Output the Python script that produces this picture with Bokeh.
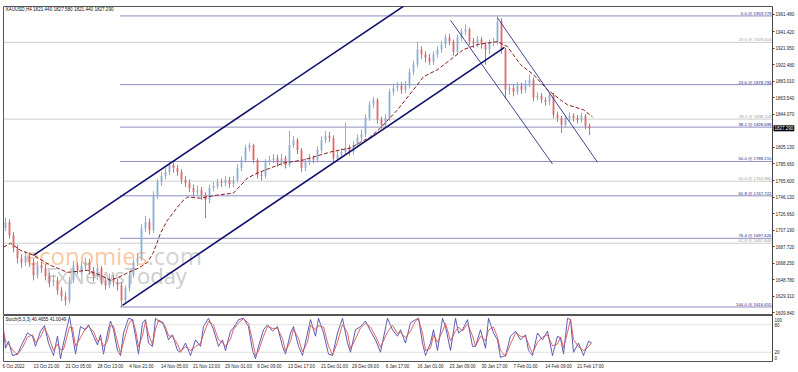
from bokeh.plotting import figure
from bokeh.models import Range1d, FixedTicker, Label, ColumnDataSource, Span, PrintfTickFormatter
from bokeh.layouts import column
from bokeh.embed import file_html
from bokeh.resources import INLINE
from bokeh.core.properties import value

# ---------------- data ----------------
first_open = 1710.0
closes = [1716.6, 1701.3, 1685.9, 1674.1, 1669.3, 1676.4, 1669.3, 1654.0, 1665.8, 1662.3,
          1652.8, 1645.7, 1648.1, 1636.2, 1629.1, 1624.4, 1648.1, 1665.8, 1659.9, 1664.6,
          1669.3, 1659.9, 1652.8, 1662.3, 1648.1, 1642.2, 1650.4, 1645.7, 1642.2, 1624.4,
          1638.6, 1654.0, 1669.3, 1674.1, 1709.6, 1716.6, 1707.2, 1748.6, 1763.9, 1771.1,
          1775.8, 1784.1, 1780.5, 1775.8, 1766.3, 1762.8, 1756.9, 1752.1, 1754.5, 1748.6,
          1742.7, 1756.9, 1759.2, 1763.9, 1762.8, 1766.3, 1761.6, 1766.3, 1780.5, 1790.0,
          1804.2, 1807.7, 1790.0, 1772.2, 1771.1, 1787.6, 1790.0, 1792.1, 1786.4, 1792.1,
          1784.1, 1807.7, 1813.6, 1801.8, 1780.5, 1787.6, 1792.1, 1790.0, 1801.8, 1813.6,
          1818.4, 1816.0, 1792.1, 1795.9, 1799.4, 1804.2, 1799.4, 1807.7, 1816.0, 1820.7,
          1839.6, 1855.0, 1860.9, 1837.3, 1831.4, 1839.6, 1870.4, 1875.1, 1877.5, 1872.8,
          1877.5, 1894.1, 1902.4, 1920.1, 1914.2, 1910.6, 1905.9, 1914.2, 1920.1, 1926.0,
          1934.3, 1929.5, 1917.7, 1934.3, 1941.4, 1943.7, 1929.5, 1927.2, 1931.9, 1926.0,
          1920.1, 1928.4, 1929.5, 1953.2, 1920.1, 1872.8, 1875.1, 1870.4, 1877.5, 1872.8,
          1879.9, 1884.6, 1863.3, 1865.7, 1860.9, 1858.6, 1866.9, 1843.2, 1839.6, 1831.4,
          1839.6, 1842.0, 1839.6, 1837.3, 1842.0, 1830.2, 1827.3]
highs = [1722, 1720, 1705, 1690, 1679, 1682, 1681, 1674, 1671, 1670,
         1667, 1657, 1655, 1652, 1640, 1634, 1652, 1671, 1669, 1670,
         1675, 1673, 1664, 1667, 1665, 1652, 1656, 1655, 1650, 1646,
         1642, 1658, 1673, 1680, 1714, 1724, 1721, 1753, 1768, 1776,
         1781, 1788.8, 1787, 1784, 1779, 1771, 1767, 1761, 1760, 1758,
         1752, 1761, 1764, 1768, 1768, 1771, 1770, 1771, 1785, 1794,
         1808, 1810.1, 1809, 1792, 1777, 1791, 1795, 1797, 1796, 1797,
         1795, 1824.3, 1818, 1816, 1804, 1792, 1797, 1795, 1806, 1818,
         1824, 1823, 1819, 1801, 1804, 1833.7, 1808, 1812, 1820, 1826,
         1844, 1859, 1864.5, 1863, 1841, 1844, 1874, 1880, 1882, 1882,
         1883, 1898, 1907, 1929.5, 1924, 1918, 1915, 1918, 1924, 1930,
         1938, 1939, 1932, 1938, 1945, 1949.7, 1946, 1934, 1936, 1935,
         1929, 1932, 1934, 1959.8, 1957, 1922, 1880, 1879, 1882, 1881,
         1884, 1890.5, 1887, 1870, 1869, 1864, 1870.4, 1869, 1847, 1842,
         1843, 1846, 1845, 1843, 1845.6, 1844, 1833]
lows = [1706, 1697, 1681, 1668, 1663, 1665, 1664, 1648, 1650, 1657,
        1648, 1640, 1641, 1631, 1624, 1618.5, 1621, 1645, 1655, 1656,
        1660, 1655, 1647, 1649, 1643, 1637, 1639, 1641, 1636, 1616.7,
        1620, 1635, 1651, 1665, 1671, 1705, 1702, 1704, 1744, 1759,
        1767, 1772, 1775, 1771, 1762, 1758, 1752, 1747, 1748, 1743,
        1721.4, 1739, 1753, 1756, 1758, 1759, 1757, 1758, 1763, 1777,
        1787, 1800, 1786, 1768, 1766, 1768, 1784, 1786, 1782, 1783,
        1780, 1782, 1804, 1797, 1776, 1777, 1784, 1786, 1787, 1798,
        1810, 1811, 1788, 1789, 1792, 1796, 1795, 1796, 1804, 1812,
        1817, 1836, 1851, 1833, 1827, 1828, 1836, 1866, 1871, 1868,
        1869, 1874, 1890, 1899, 1909, 1905, 1902, 1902, 1910, 1916,
        1922, 1925, 1913, 1914, 1930, 1937, 1925, 1922, 1923, 1921,
        1902.4, 1915, 1924, 1926, 1915, 1862, 1867, 1865, 1867, 1868,
        1869, 1876, 1859, 1860, 1857, 1854, 1855, 1839, 1835, 1821.9,
        1828, 1836, 1835, 1833, 1834, 1826, 1819.3]

# moving average (bar position, price)
ma_x = [0, 7, 17, 30, 47, 64, 84, 97, 107, 115, 125, 135, 144, 150, 157, 164, 174, 180, 184,
        197, 214, 230, 244, 254, 267, 280, 300, 327, 347, 367, 377, 394, 410, 420, 434, 447,
        460, 474, 494, 504, 517, 530, 544, 557, 564, 580, 589]
ma_v = [1687.1, 1691.8, 1683.5, 1677.6, 1665.8, 1657.5, 1659.9, 1654.0, 1648.1, 1651.6,
        1657.5, 1662.3, 1669.3, 1681.2, 1703.6, 1719.0, 1734.4, 1742.7, 1746.2, 1745.0,
        1748.6, 1750.9, 1768.7, 1774.6, 1780.5, 1786.4, 1790.0, 1799.4, 1804.2, 1817.2,
        1827.8, 1849.1, 1872.8, 1888.1, 1896.4, 1908.3, 1920.1, 1926.0, 1929.5, 1923.6,
        1902.4, 1890.5, 1872.8, 1860.9, 1855.0, 1849.1, 1840.8]

# trend lines (bar, price)
up_chan_hi_x = [30, 430];  up_chan_hi_y = [1677.6, 1995.0]
up_chan_lo_x = [119, 501]; up_chan_lo_y = [1618.5, 1922.8]
dn_chan_a_x = [447, 549];  dn_chan_a_y = [1954.7, 1785.2]
dn_chan_b_x = [494, 594];  dn_chan_b_y = [1957.5, 1787.3]

# Fibonacci levels
fib_levels = [1959.779, 1878.794, 1828.698, 1788.210, 1747.722, 1697.626, 1616.655]
fib_labels = ["0.0 @ 1959.779", "23.6 @ 1878.794", "38.2 @ 1828.698", "50.0 @ 1788.210",
              "61.8 @ 1747.722", "76.4 @ 1697.626", "100.0 @ 1616.655"]
fib_start = 117
fib2_levels = [1928.604, 1838.118, 1764.980, 1691.840]
fib2_labels = ["23.6 @ 1928.604", "38.2 @ 1838.118", "50.0 @ 1764.980", "61.8 @ 1691.840"]

price_ticks = [1961.48, 1941.42, 1921.95, 1902.48, 1883.01, 1863.54, 1844.07, 1805.13,
               1785.66, 1765.60, 1746.13, 1726.66, 1707.19, 1687.72, 1668.25, 1648.78,
               1629.31, 1609.84]
last_price = 1827.29

# stochastic
st_x = [0, 2, 5, 9, 14, 19, 24, 29, 32, 37, 41, 45, 50, 54, 57, 60, 66, 69, 72, 77, 82, 85,
        90, 94, 97, 100, 104, 107, 110, 114, 117, 120, 125, 129, 132, 135, 139, 142, 145,
        149, 152, 155, 159, 162, 165, 169, 174, 177, 182, 187, 192, 197, 200, 205, 210, 215,
        219, 222, 227, 230, 235, 240, 245, 249, 252, 255, 260, 264, 269, 274, 279, 282, 287,
        290, 295, 299, 304, 307, 312, 315, 320, 325, 329, 334, 339, 344, 347, 352, 357, 362,
        367, 372, 377, 384, 389, 394,
        397, 402, 407, 412, 415, 419, 422, 427, 430, 434, 439, 442, 447, 452, 455, 459, 464,
        469, 472, 477, 482, 485, 490, 494, 497, 502, 507, 512, 517, 522, 525, 529, 534, 539,
        544, 549, 554, 557, 560, 564, 567, 570, 575, 580, 585, 588]
st_main = [69, 29, 44, 13, 16, 40, 62, 55, 33, 66, 78, 40, 13, 55, 6, 40, 98, 58, 16, 76,
           69, 80, 55, 36, 58, 16, 62, 88, 69, 24, 13, 62, 94, 91, 55, 16, 84, 91, 40, 33,
           94, 88, 84, 69, 47, 58, 24, 20, 40, 13, 47, 33, 76, 94, 69, 33, 47, 24, 66, 73,
           91, 94, 76, 24, 6, 33, 69, 80, 66, 76, 33, 16, 62, 76, 33, 13, 62, 91, 55, 94,
           62, 16, 13, 62, 94, 40, 20, 69, 76, 88, 66, 47, 20, 94, 69, 55,
           69, 40, 84, 91, 94, 40, 13, 40, 69, 24, 94, 76, 24, 94, 62, 69, 91, 33, 33, 69,
           29, 94, 62, 47, 9, 13, 55, 66, 47, 58, 24, 13, 62, 47, 66, 13, 55, 51, 16, 94,
           91, 20, 40, 13, 44, 40.5]
st_signal = [65, 45, 38, 25, 15, 30, 53, 58, 42, 53, 73, 55, 24, 38, 26, 26, 75, 74, 33, 52,
             72, 76, 65, 44, 49, 33, 44, 78, 77, 42, 17, 42, 81, 92, 69, 32, 57, 88, 60, 36,
             70, 90, 86, 75, 56, 54, 38, 22, 32, 24, 33, 39, 59, 87, 79, 47, 41, 33, 49, 70,
             84, 93, 83, 45, 13, 22, 55, 76, 72, 72, 50, 23, 44, 70, 50, 21, 42, 79, 69, 78,
             75, 34, 14, 42, 81, 62, 28, 49, 73, 83, 75, 55, 31, 64, 79, 61,
             63, 52, 66, 88, 93, 62, 24, 29, 57, 42, 66, 83, 45, 66, 75, 66, 82, 56, 33, 55,
             45, 68, 75, 53, 24, 11, 38, 62, 55, 54, 38, 17, 42, 53, 58, 34, 38, 53, 30, 63,
             92, 48, 32, 24, 32, 41.0]

time_bars = [-1, 30, 62, 94, 126, 158, 190, 222, 254, 285, 318, 349, 382, 414, 446, 478, 510, 542, 574]
time_labels = ["6 Oct 2022", "13 Oct 21:00", "21 Oct 05:00", "28 Oct 13:00", "4 Nov 21:00",
               "14 Nov 05:00", "21 Nov 13:00", "29 Nov 01:00", "6 Dec 09:00", "13 Dec 17:00",
               "21 Dec 01:00", "29 Dec 09:00", "6 Jan 17:00", "16 Jan 01:00", "23 Jan 09:00",
               "30 Jan 17:00", "7 Feb 01:00", "14 Feb 09:00", "21 Feb 17:00"]

# ---------------- styling ----------------
FONT = "Liberation Sans"
AX_FS = "4.5px"
BULL = "#8aaed6"
BEAR = "#e46666"
NAVY = "#10106e"
FIB_BLUE = "#1c1c86"
FIB_GRAY = "#9a9a9a"
X_END = 769

opens = [first_open] + closes[:-1]
xs = [4 * i + 2 for i in range(len(closes))]
colors = [BULL if c >= o else BEAR for o, c in zip(opens, closes)]
candles = ColumnDataSource(dict(x=xs, o=opens, c=closes, h=highs, l=lows,
                                top=[max(a, b) for a, b in zip(opens, closes)],
                                bot=[min(a, b) for a, b in zip(opens, closes)],
                                col=colors))

main = figure(width=798, height=315, x_range=Range1d(0, X_END), y_range=Range1d(1607.8, 1970.9),
              output_backend="svg", toolbar_location=None, x_axis_location=None,
              y_axis_location="right", min_border_left=3, min_border_right=26,
              min_border_top=2, min_border_bottom=1)
main.grid.visible = False
main.outline_line_color = "#555555"
main.background_fill_color = "white"
main.border_fill_color = "white"

ya = main.yaxis[0]
ya.ticker = FixedTicker(ticks=price_ticks)
ya.formatter = PrintfTickFormatter(format="%.3f")
ya.major_label_text_font = FONT
ya.major_label_text_font_size = AX_FS
ya.major_label_text_color = "#222222"
ya.major_tick_out = 2
ya.major_tick_in = 0
ya.minor_tick_out = 0
ya.minor_tick_in = 0
ya.major_label_standoff = 1
ya.axis_line_color = "#444444"
ya.major_tick_line_color = "#444444"

# watermark (under everything)
main.add_layout(Label(x=22, y=1657.5, text="economies", text_font="Open Sans",
                      text_font_size="24px", text_color="#f29a55", text_alpha=0.55,
                      level="underlay"))
main.add_layout(Label(x=144, y=1657.5, text=".com", text_font="Open Sans",
                      text_font_size="24px", text_color="#b4b4b4", text_alpha=0.6,
                      level="underlay"))
main.add_layout(Label(x=42, y=1636.2, text="FxNewsToday", text_font="Open Sans",
                      text_font_size="22px", text_color="#a8a8a8", text_alpha=0.6,
                      level="underlay"))

# secondary (gray) fibonacci
n2 = len(fib2_levels)
main.segment(x0=[0] * n2, x1=[X_END] * n2, y0=fib2_levels, y1=fib2_levels,
             line_color=FIB_GRAY, line_dash="1 1", line_width=1)
main.text(x=[X_END - 1] * n2, y=fib2_levels, text=fib2_labels, text_align="right",
          text_baseline="bottom", text_font=value(FONT), text_font_size="4.3px",
          text_color="#a0a0a0")

# main fibonacci
n1 = len(fib_levels)
main.segment(x0=[fib_start] * n1, x1=[X_END] * n1, y0=fib_levels, y1=fib_levels,
             line_color=FIB_BLUE, line_dash="1 1", line_width=1)
main.text(x=[X_END - 1] * n1, y=fib_levels, text=fib_labels, text_align="right",
          text_baseline="bottom", text_font=value(FONT), text_font_size="4.3px",
          text_color=FIB_BLUE)

# candles
main.segment(x0="x", x1="x", y0="l", y1="h", line_color="col", line_width=1, source=candles)
main.vbar(x="x", width=1.8, top="top", bottom="bot", fill_color="col", line_color=None,
          source=candles)

# moving average
main.line(ma_x, ma_v, line_color="#8b1c1c", line_dash="4 2", line_width=1)

# channels
main.line(up_chan_hi_x, up_chan_hi_y, line_color=NAVY, line_width=1.6)
main.line(up_chan_lo_x, up_chan_lo_y, line_color=NAVY, line_width=1.6)
main.line(dn_chan_a_x, dn_chan_a_y, line_color="#303088", line_width=0.9)
main.line(dn_chan_b_x, dn_chan_b_y, line_color="#303088", line_width=0.9)

# header
main.add_layout(Label(x=2, y=1970.5, text="XAUUSD,H4  1821.440 1827.580 1821.440 1827.290",
                      text_baseline="top", text_font=FONT, text_font_size="4.6px",
                      text_color="#111111"))
# last-price marker on the price scale (placed in a side panel so it is not clipped)
main.add_layout(Label(x=X_END, y=last_price, x_offset=1, text="%.3f" % last_price,
                      text_baseline="middle", text_align="left", text_font=FONT,
                      text_font_size=AX_FS, text_color="white", padding=1,
                      background_fill_color="black"), "above")

# ---------------- stochastic panel ----------------
st = figure(width=798, height=57, x_range=main.x_range, y_range=Range1d(0, 100),
            output_backend="svg", toolbar_location=None, y_axis_location="right",
            min_border_left=3, min_border_right=26, min_border_top=0, min_border_bottom=11)
st.grid.visible = False
st.outline_line_color = "#555555"
st.border_fill_color = "white"

st.add_layout(Span(location=80, dimension="width", line_color="#c4c4c4", line_dash="1 1"))
st.add_layout(Span(location=20, dimension="width", line_color="#c4c4c4", line_dash="1 1"))
st.line(st_x, st_main, line_color="#4a48aa", line_width=0.9)
st.line(st_x, st_signal, line_color="#d85454", line_width=0.9)

sy = st.yaxis[0]
sy.ticker = FixedTicker(ticks=[91, 80, 20, 7])
sy.major_label_overrides = {91: "100", 80: "80", 20: "20", 7: "0"}
sy.major_label_text_font = FONT
sy.major_label_text_font_size = AX_FS
sy.major_label_text_color = "#222222"
sy.major_tick_out = 0
sy.major_tick_in = 0
sy.minor_tick_out = 0
sy.minor_tick_in = 0
sy.major_label_standoff = 2
sy.axis_line_color = "#444444"


def text_w(s, size):
    w = 0.0
    for ch in s:
        if ch.isdigit():
            w += 0.556
        elif ch in " :.":
            w += 0.278
        elif ch.isupper():
            w += 0.72
        else:
            w += 0.52
    return w * size


tick_pos = [int(round(b + text_w(l, 4.5) / 2)) for b, l in zip(time_bars, time_labels)]
sx = st.xaxis[0]
sx.ticker = FixedTicker(ticks=tick_pos)
sx.major_label_overrides = {t: l for t, l in zip(tick_pos, time_labels)}
sx.major_label_text_font = FONT
sx.major_label_text_font_size = AX_FS
sx.major_label_text_color = "#222222"
sx.major_tick_out = 0
sx.major_tick_in = 0
sx.minor_tick_out = 0
sx.minor_tick_in = 0
sx.major_label_standoff = 2
sx.axis_line_color = None

st.add_layout(Label(x=2, y=96, text="Stoch(5,3,3) 40.4655 41.0049", text_baseline="top",
                    text_font=FONT, text_font_size="4.6px", text_color="#111111"))

layout = column(main, st, spacing=0)
open("out.html", "w").write(file_html(layout, INLINE))
